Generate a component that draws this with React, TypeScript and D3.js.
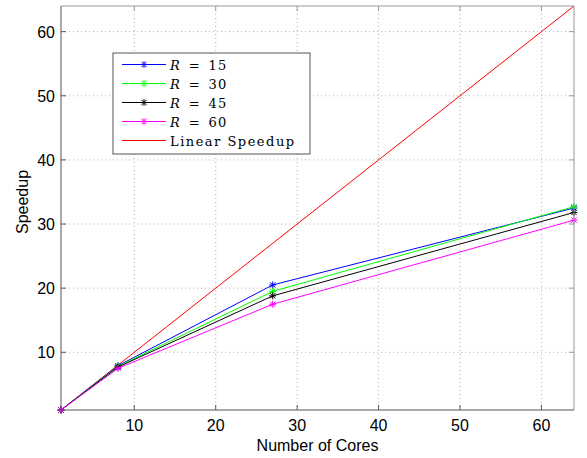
import React from "react";
import * as d3 from "d3";

const cores = [1, 8, 27, 64];
const r15 = [1, 7.9, 20.5, 32.5];
const r30 = [1, 7.8, 19.5, 32.7];
const r45 = [1, 7.7, 18.8, 31.8];
const r60 = [1, 7.5, 17.5, 30.6];
const linear = [1, 64];
const xTicks = [10, 20, 30, 40, 50, 60];
const yTicks = [10, 20, 30, 40, 50, 60];
const seriesNames = ["R = 15", "R = 30", "R = 45", "R = 60"];
const seriesColors = ["#0000ff", "#00ff00", "#000000", "#ff00ff"];

const W = 587, H = 458;
const left = 61, right = 574, top = 6, bottom = 410;

export default function App() {
  const x = d3.scaleLinear().domain([1, 64]).range([left, right]);
  const y = d3.scaleLinear().domain([1, 64]).range([bottom, top]);
  const line = d3.line<[number, number]>().x(d => x(d[0])).y(d => y(d[1]));
  const series = [r15, r30, r45, r60];
  const star = (cx: number, cy: number, color: string, k: string) => {
    const s = 3.5;
    const d = `M${cx - s},${cy}L${cx + s},${cy}M${cx},${cy - s}L${cx},${cy + s}M${cx - s * 0.75},${cy - s * 0.75}L${cx + s * 0.75},${cy + s * 0.75}M${cx - s * 0.75},${cy + s * 0.75}L${cx + s * 0.75},${cy - s * 0.75}`;
    return <path key={k} d={d} stroke={color} strokeWidth={1} fill="none" />;
  };
  const legX = 113, legY = 53, legW = 197, legH = 101;
  const rowY = (i: number) => 64.5 + i * 19;
  const sans = "Liberation Sans, Arial, sans-serif";
  return (
    <svg width={W} height={H} style={{ position: "absolute", left: 0, top: 0, background: "#fff" }}>
      <rect x={0} y={0} width={W} height={H} fill="#fff" />
      {/* grid */}
      {xTicks.map(t => (
        <line key={"gx" + t} x1={x(t)} x2={x(t)} y1={top} y2={bottom} stroke="#b0b0b0" strokeWidth={1} strokeDasharray="1,3" />
      ))}
      {yTicks.map(t => (
        <line key={"gy" + t} x1={left} x2={right} y1={y(t)} y2={y(t)} stroke="#b0b0b0" strokeWidth={1} strokeDasharray="1,3" />
      ))}
      {/* linear speedup */}
      <path d={line(linear.map(v => [v, v]) as [number, number][]) || ""} stroke="#ff0000" strokeWidth={1} fill="none" />
      {series.map((s, i) => (
        <g key={"s" + i}>
          <path d={line(s.map((v, j) => [cores[j], v]) as [number, number][]) || ""} stroke={seriesColors[i]} strokeWidth={1} fill="none" />
          {s.map((v, j) => star(x(cores[j]), y(v), seriesColors[i], `m${i}-${j}`))}
        </g>
      ))}
      {/* axes box */}
      <line x1={left} x2={right} y1={top} y2={top} stroke="#999" strokeWidth={1} />
      <line x1={right} x2={right} y1={top} y2={bottom} stroke="#999" strokeWidth={1} />
      <line x1={left} x2={left} y1={top} y2={bottom} stroke="#555" strokeWidth={1} />
      <line x1={left} x2={right} y1={bottom} y2={bottom} stroke="#555" strokeWidth={1} />
      {xTicks.map(t => (
        <g key={"tx" + t}>
          <line x1={x(t)} x2={x(t)} y1={bottom} y2={bottom - 5} stroke="#555" />
          <line x1={x(t)} x2={x(t)} y1={top} y2={top + 5} stroke="#999" />
          <text x={x(t)} y={431} textAnchor="middle" fontFamily={sans} fontSize={16} fill="#000">{t}</text>
        </g>
      ))}
      {yTicks.map(t => (
        <g key={"ty" + t}>
          <line x1={left} x2={left + 5} y1={y(t)} y2={y(t)} stroke="#555" />
          <line x1={right} x2={right - 5} y1={y(t)} y2={y(t)} stroke="#999" />
          <text x={left - 6} y={y(t) + 6} textAnchor="end" fontFamily={sans} fontSize={16} fill="#000">{t}</text>
        </g>
      ))}
      <text x={(left + right) / 2} y={451} textAnchor="middle" fontFamily={sans} fontSize={16} fill="#000">Number of Cores</text>
      <text transform={`translate(28,202) rotate(-90)`} textAnchor="middle" fontFamily={sans} fontSize={16} fill="#000">Speedup</text>
      {/* legend */}
      <rect x={legX} y={legY} width={legW} height={legH} fill="#fff" stroke="#555" strokeWidth={1} />
      {seriesNames.map((n, i) => (
        <g key={"l" + i}>
          <line x1={122} x2={166} y1={rowY(i)} y2={rowY(i)} stroke={seriesColors[i]} strokeWidth={1} />
          {star(144, rowY(i), seriesColors[i], "lm" + i)}
          <text x={170} y={rowY(i) + 5} fontFamily="DejaVu Serif, serif" fontSize={13} letterSpacing={1.2} fill="#000">
            <tspan fontStyle="italic">R</tspan>
            <tspan>{"\u2002=\u2002" + n.split("= ")[1]}</tspan>
          </text>
        </g>
      ))}
      <line x1={122} x2={166} y1={rowY(4)} y2={rowY(4)} stroke="#ff0000" strokeWidth={1} />
      <text x={170} y={rowY(4) + 5} fontFamily="DejaVu Serif, serif" fontSize={13} letterSpacing={1.5} fill="#000">Linear Speedup</text>
    </svg>
  );
}
